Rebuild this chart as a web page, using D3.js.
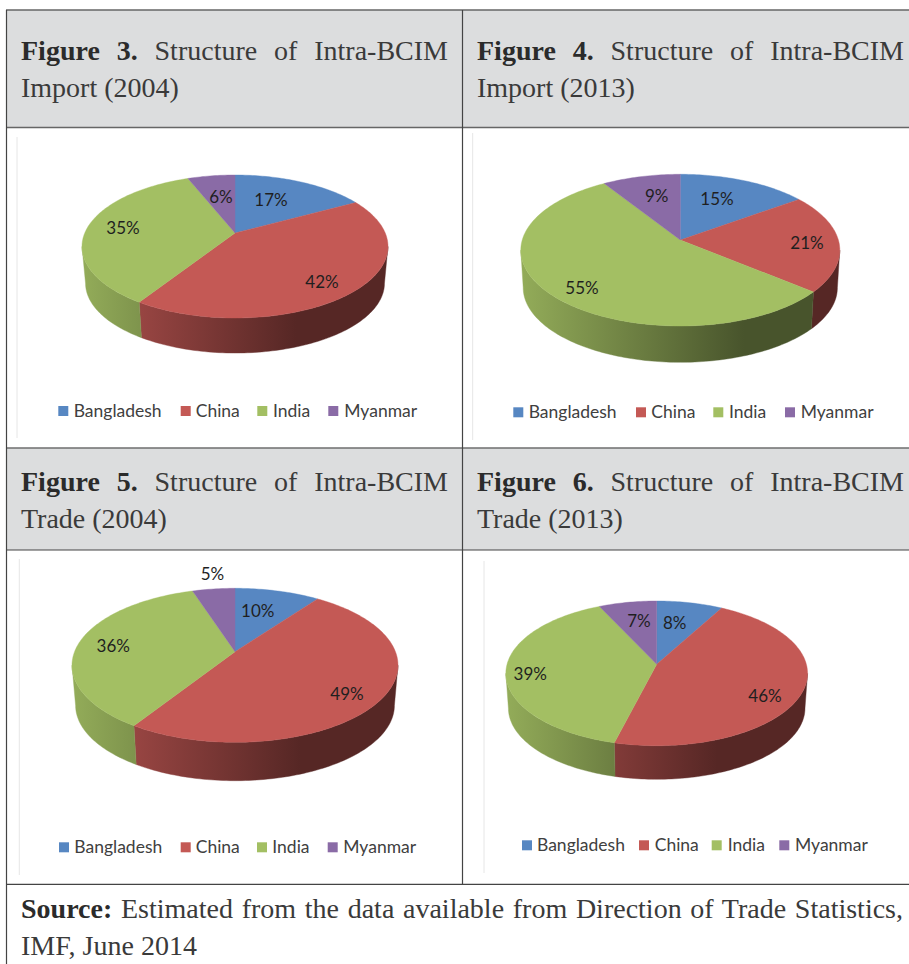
<!DOCTYPE html>
<html>
<head>
<meta charset="utf-8">
<script src="https://cdn.jsdelivr.net/npm/d3@7"></script>
<style>
  html, body { margin: 0; padding: 0; background: #fff; }
  svg { display: block; }
</style>
</head>
<body>
<div id="chart"></div>
<script>
// Shares of intra-BCIM flows, in percent
const categories = ["Bangladesh", "China", "India", "Myanmar"];
const import2004 = [17, 42, 35, 6];
const import2013 = [15, 21, 55, 9];
const trade2004 = [10, 49, 36, 5];
const trade2013 = [8, 46, 39, 7];
const sliceColors = ["#5787c2", "#c45955", "#a3bf63", "#8a6ba6"];
const legendEntries = categories;

const W = 909, H = 964;
const SERIF = "'Liberation Serif', serif";
const SANS = "Lato, 'Open Sans', sans-serif";
const TITLE_SIZE = 28;

// Panel geometry: apex, rim extents and thickness of each tilted pie
const panels = [
  { id: "f3", values: import2004, cx: 235, cy: 233, top: 175, bottom: 318, halfW: 153, depth: 37, shrink: 0.977,
    frame: [17, 137, 438],
    legendY: 406, swatchX: [58.3, 180.7, 257.3, 328.3], textX: [73.7, 195.7, 273, 344.3],
    labels: [[271, 205.7], [322, 288], [123, 234], [221, 203]] },
  { id: "f4", values: import2013, cx: 680.3, cy: 240, top: 174.3, bottom: 326, halfW: 159.5, depth: 37.6, shrink: 0.985,
    frame: [472.7, 133, 440],
    legendY: 407.3, swatchX: [513.3, 636, 713.3, 785], textX: [528.7, 651.3, 729, 800.7],
    labels: [[717, 205], [807, 249], [582, 294.3], [656.7, 202.3]] },
  { id: "f5", values: trade2004, cx: 235, cy: 651.7, top: 588.3, bottom: 742.3, halfW: 163, depth: 40.4, shrink: 0.978,
    frame: [19.3, 559, 875],
    legendY: 842.3, swatchX: [59, 180.7, 257, 327.7], textX: [74.3, 195.7, 272.3, 343.3],
    labels: [[257.7, 616.7], [347, 699.7], [113.3, 652], [212.5, 580.3]] },
  { id: "f6", values: trade2013, cx: 656.7, cy: 664.3, top: 601, bottom: 745.7, halfW: 150.85, depth: 35, shrink: 0.983,
    frame: [484, 561, 873],
    legendY: 840.3, swatchX: [522, 639, 711.7, 779.3], textX: [537, 654.7, 727.7, 795],
    labels: [[674.7, 629], [765, 702], [530.3, 680.3], [639, 627.3]] }
];

const titles = [
  { x: 21, right: 448, y: 60,  bold: "Figure 3.", rest: " Structure of Intra-BCIM", second: "Import (2004)", y2: 97 },
  { x: 477, right: 904, y: 60, bold: "Figure 4.", rest: " Structure of Intra-BCIM", second: "Import (2013)", y2: 97 },
  { x: 21, right: 448, y: 490.5, bold: "Figure 5.", rest: " Structure of Intra-BCIM", second: "Trade (2004)", y2: 527.5 },
  { x: 477, right: 904, y: 490.5, bold: "Figure 6.", rest: " Structure of Intra-BCIM", second: "Trade (2013)", y2: 527.5 }
];

const svg = d3.select("#chart").append("svg").attr("width", W).attr("height", H);
const defs = svg.append("defs");

svg.append("rect").attr("width", W).attr("height", H).attr("fill", "#fff");

// Grey header bands
[[10, 127.5], [448, 550]].forEach(([y0, y1]) => {
  svg.append("rect").attr("x", 6).attr("y", y0).attr("width", W - 6).attr("height", y1 - y0).attr("fill", "#dcddde");
});

// Table rules: x1, y1, x2, y2, weight, colour
const rules = [
  [6, 10, W, 10, 1.7, "#666"], [6, 127.5, W, 127.5, 1.7, "#666"], [6, 448, W, 448, 1.7, "#6e6e6e"],
  [6, 550, W, 550, 1.2, "#444"], [6, 884.3, W, 884.3, 1.2, "#444"],
  [6.5, 10, 6.5, 964, 1.2, "#444"], [462.5, 10, 462.5, 884.3, 1.2, "#444"]
];
svg.selectAll("line.rule").data(rules).join("line").attr("class", "rule")
  .attr("x1", d => d[0]).attr("y1", d => d[1]).attr("x2", d => d[2]).attr("y2", d => d[3])
  .attr("stroke-width", d => d[4]).attr("stroke", d => d[5]);

const pie = d3.pie().sort(null).value(d => d).startAngle(0).endAngle(2 * Math.PI);
const outline = d3.line();

function drawPanel(p) {
  const g = svg.append("g").attr("id", p.id);
  const above = p.cy - p.top, below = p.bottom - p.cy;
  // Perspective foreshortening that sends the disc centre to the apex
  const k = (below - above) / (below + above);
  const sy = above * (1 + k);
  const sx = p.halfW * Math.sqrt(1 - k * k);
  const xScale = d3.scaleLinear().domain([-1, 1]).range([p.cx - sx, p.cx + sx]);
  const yScale = d3.scaleLinear().domain([-1, 1]).range([p.cy - sy, p.cy + sy]);

  const rim = (a, shrink, drop) => {
    const u = Math.sin(a), v = -Math.cos(a), w = 1 - k * v;
    const px = xScale(u / w), py = yScale(v / w);
    return [p.cx + (px - p.cx) * shrink, p.cy + (py - p.cy) * shrink + drop];
  };
  const samples = (a0, a1) => {
    const n = Math.max(2, Math.ceil((a1 - a0) / 0.02));
    return d3.range(n + 1).map(i => a0 + (a1 - a0) * i / n);
  };

  // Faint chart-area edge
  g.append("line").attr("x1", p.frame[0]).attr("x2", p.frame[0]).attr("y1", p.frame[1]).attr("y2", p.frame[2])
    .attr("stroke", "#e6e6e6").attr("stroke-width", 1);

  const arcs = pie(p.values);
  const left = p.cx - p.halfW, right = p.cx + p.halfW;

  // Each slice wall shades from its colour to a dark tone across the pie width
  sliceColors.forEach((c, i) => {
    const base = d3.rgb(c);
    const shade = f => d3.rgb(base.r * f, base.g * f, base.b * f).formatHex();
    const grad = defs.append("linearGradient").attr("id", `${p.id}-wall-${i}`)
      .attr("gradientUnits", "userSpaceOnUse")
      .attr("x1", left).attr("x2", right).attr("y1", 0).attr("y2", 0);
    [[0, 0.9], [0.7, 0.44], [1, 0.44]].forEach(([o, f]) => {
      grad.append("stop").attr("offset", o).attr("stop-color", shade(f));
    });
  });

  // Front walls: only the part of the rim that faces the viewer
  const visFrom = Math.acos(-k), visTo = 2 * Math.PI - visFrom;
  arcs.forEach((d, i) => {
    const a0 = Math.max(d.startAngle, visFrom), a1 = Math.min(d.endAngle, visTo);
    if (a1 <= a0) return;
    const as = samples(a0, a1);
    const upper = as.map(a => rim(a, 1, 0));
    const lower = as.slice().reverse().map(a => rim(a, p.shrink, p.depth));
    g.append("path").attr("d", outline(upper.concat(lower)) + "Z")
      .attr("fill", `url(#${p.id}-wall-${i})`)
      .attr("stroke", `url(#${p.id}-wall-${i})`).attr("stroke-width", 0.4);
  });

  // Top face
  arcs.forEach((d, i) => {
    const pts = [[p.cx, p.cy]].concat(samples(d.startAngle, d.endAngle).map(a => rim(a, 1, 0)));
    g.append("path").attr("d", outline(pts) + "Z")
      .attr("fill", sliceColors[i]).attr("stroke", sliceColors[i]).attr("stroke-width", 0.4);
  });

  // Percentage labels
  arcs.forEach((d, i) => {
    g.append("text").attr("x", p.labels[i][0]).attr("y", p.labels[i][1])
      .attr("text-anchor", "middle").attr("font-family", SANS).attr("font-size", 17)
      .attr("fill", "#1f1f1f").text(`${d.value}%`);
  });

  // Legend row
  legendEntries.forEach((name, i) => {
    g.append("rect").attr("x", p.swatchX[i]).attr("y", p.legendY)
      .attr("width", 10).attr("height", 10).attr("fill", sliceColors[i]);
    g.append("text").attr("x", p.textX[i]).attr("y", p.legendY + 10.5)
      .attr("font-family", SANS).attr("font-size", 17.5).attr("fill", "#404040").text(name);
  });
}

panels.forEach(drawPanel);

// Justified serif line: extra width goes into the word gaps
function justified(x, y, right, bold, rest, size) {
  const t = svg.append("text").attr("x", x).attr("y", y)
    .attr("font-family", SERIF).attr("font-size", size).attr("fill", "#3a3a3a");
  t.append("tspan").attr("font-weight", "bold").attr("fill", "#2b2b2b").text(bold);
  t.append("tspan").text(rest);
  t.attr("xml:space", "preserve");
  const gaps = (bold + rest).split(" ").length - 1;
  const width = t.node().getComputedTextLength();
  t.attr("word-spacing", Math.max(0, (right - x - width) / gaps));
  return t;
}

titles.forEach(d => {
  justified(d.x, d.y, d.right, d.bold, d.rest, TITLE_SIZE);
  svg.append("text").attr("x", d.x).attr("y", d.y2)
    .attr("font-family", SERIF).attr("font-size", TITLE_SIZE).attr("fill", "#3a3a3a").text(d.second);
});

justified(21, 917.7, 903, "Source:", " Estimated from the data available from Direction of Trade Statistics,", TITLE_SIZE);
svg.append("text").attr("x", 21).attr("y", 955)
  .attr("font-family", SERIF).attr("font-size", TITLE_SIZE).attr("fill", "#3a3a3a").text("IMF, June 2014");
</script>
</body>
</html>
